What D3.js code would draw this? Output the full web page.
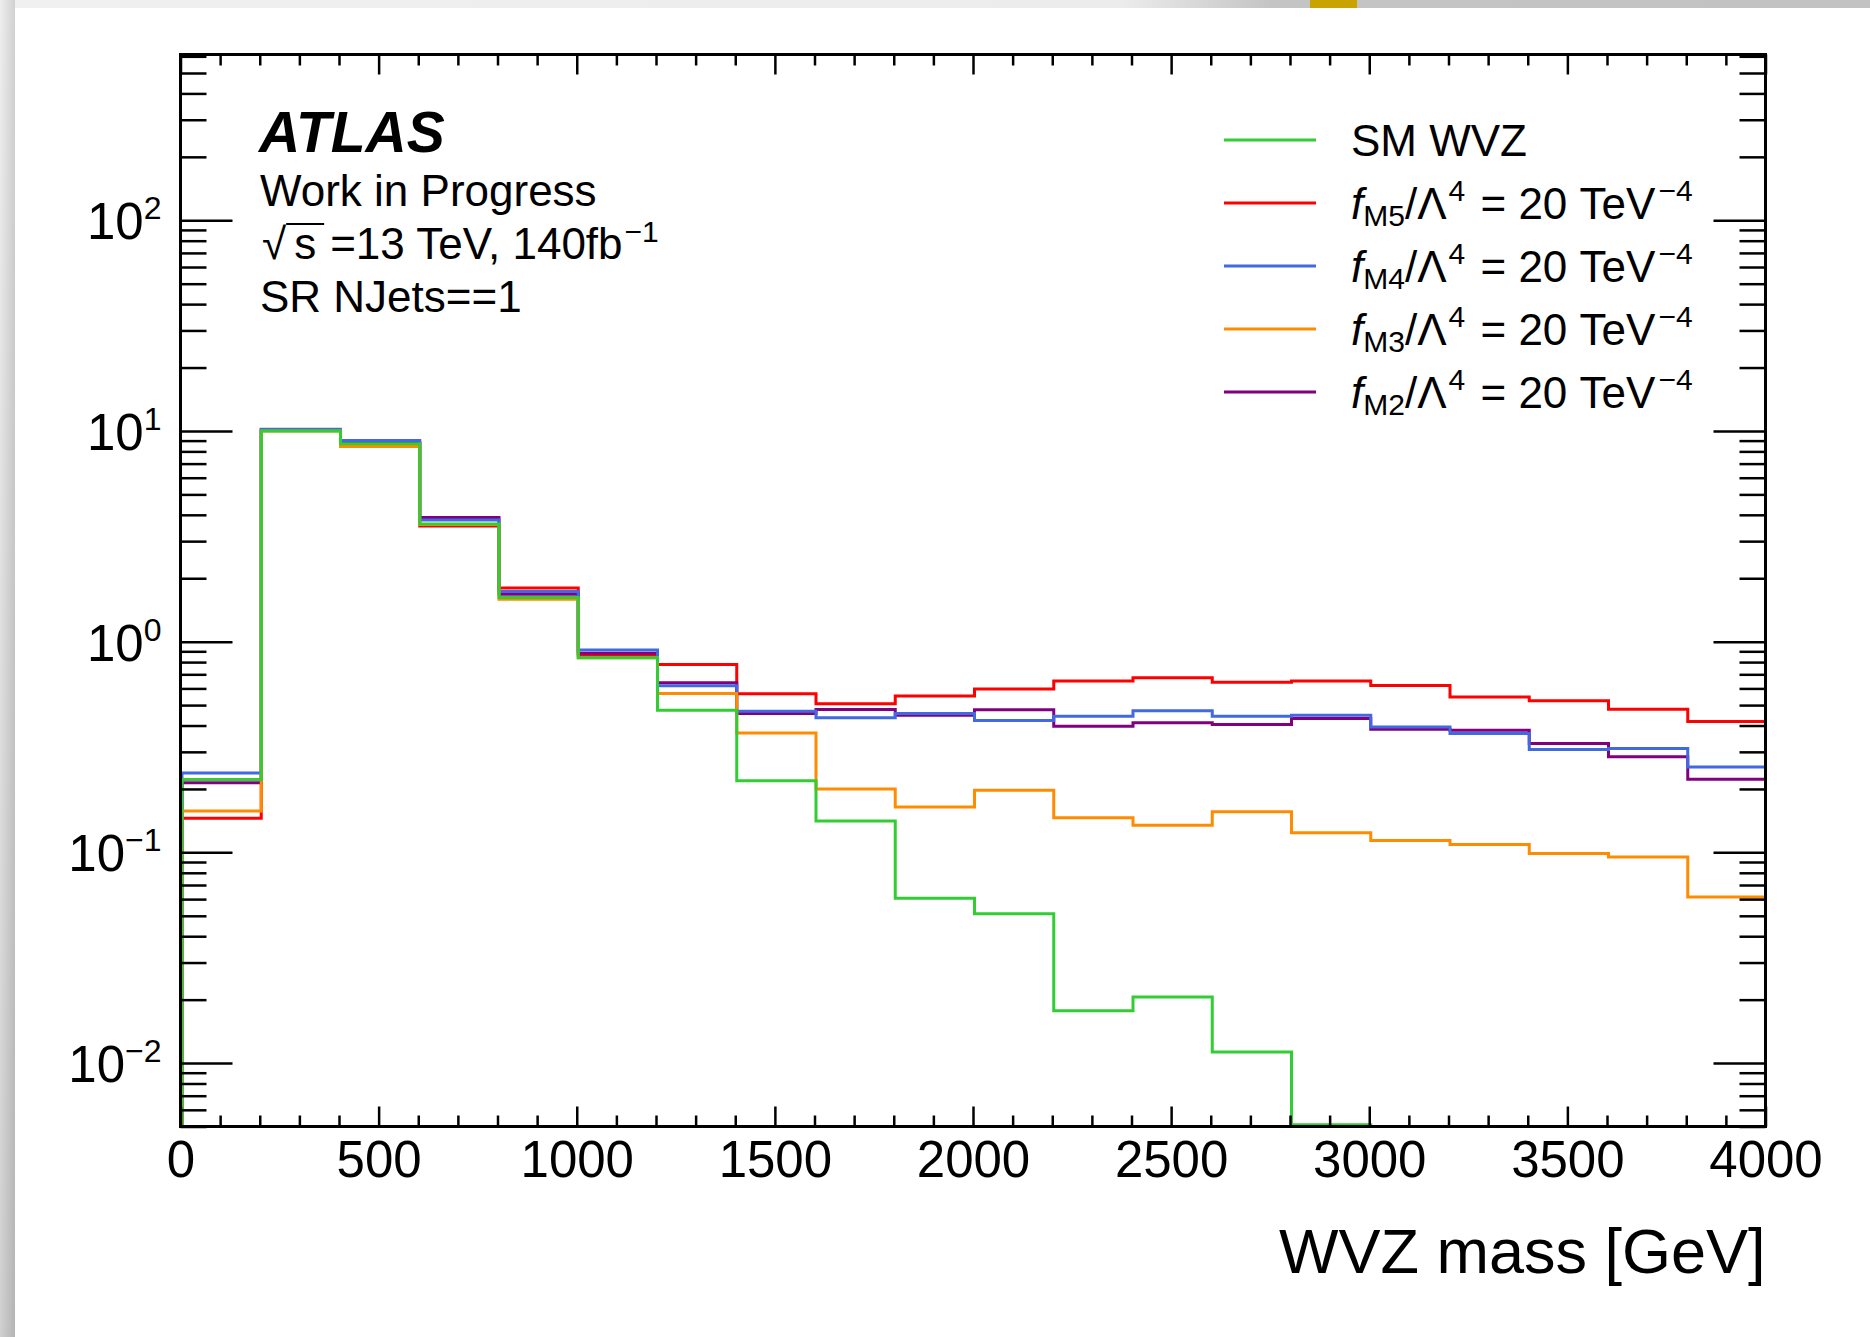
<!DOCTYPE html>
<html>
<head>
<meta charset="utf-8">
<script src="https://cdn.jsdelivr.net/npm/d3@7"></script>
<style>
body { margin: 0; background: #fff; }
text { font-family: "Liberation Sans", Arial, Helvetica, sans-serif; fill: #000; }
</style>
</head>
<body>
<div id="chart"></div>
<script>
// bin edges of the WVZ mass histogram [GeV]
var binEdges = [0, 200, 400, 600, 800, 1000, 1200, 1400, 1600, 1800, 2000,
    2200, 2400, 2600, 2800, 3000, 3200, 3400, 3600, 3800, 4000];

// bin contents (0 = empty bin)
var smWVZ = [0.222, 10.0, 8.7, 3.62, 1.62, 0.839, 0.473, 0.219, 0.141, 0.0605,
    0.0512, 0.0177, 0.0206, 0.0113, 0.0051, 0, 0, 0, 0, 0];
var fM5 = [0.145, 10.1, 8.8, 3.54, 1.80, 0.863, 0.780, 0.566, 0.507, 0.553,
    0.596, 0.650, 0.674, 0.641, 0.650, 0.620, 0.547, 0.524, 0.478, 0.418];
var fM4 = [0.238, 10.2, 9.0, 3.78, 1.73, 0.912, 0.617, 0.467, 0.436, 0.456,
    0.423, 0.443, 0.470, 0.443, 0.448, 0.394, 0.367, 0.308, 0.311, 0.2545];
var fM3 = [0.157, 10.0, 8.43, 3.60, 1.59, 0.840, 0.568, 0.369, 0.200, 0.164,
    0.197, 0.146, 0.1345, 0.156, 0.124, 0.114, 0.109, 0.0987, 0.0951, 0.0614];
var fM2 = [0.214, 10.1, 8.8, 3.88, 1.68, 0.880, 0.638, 0.456, 0.477, 0.447,
    0.475, 0.397, 0.412, 0.405, 0.432, 0.384, 0.380, 0.329, 0.284, 0.2225];

var xMajorTicks = [0, 500, 1000, 1500, 2000, 2500, 3000, 3500, 4000];
var yMajorTicks = [0.01, 0.1, 1, 10, 100];
var yTickExp = ["\u22122", "\u22121", "0", "1", "2"];

var legendSub = [null, "M5", "M4", "M3", "M2"];
var seriesColors = ["#32cd32", "#ff0000", "#4169e1", "#ff8c00", "#800080"];
var seriesData = [smWVZ, fM5, fM4, fM3, fM2];
var drawOrder = [1, 4, 2, 3, 0];

var plot = { left: 180.5, right: 1765.5, top: 54.5, bottom: 1126.5 };
var font = "'Liberation Sans', Arial, Helvetica, sans-serif";

var svg = d3.select("#chart")
    .append("svg")
    .attr("width", 1870)
    .attr("height", 1337);

// window edge shading
var defs = svg.append("defs");
var gTop = defs.append("linearGradient").attr("id", "gTop");
gTop.append("stop").attr("offset", "0").attr("stop-color", "#f0f0f0");
gTop.append("stop").attr("offset", "0.6").attr("stop-color", "#ececec");
gTop.append("stop").attr("offset", "0.68").attr("stop-color", "#c4c4c4");
gTop.append("stop").attr("offset", "1").attr("stop-color", "#c2c2c2");
var gLeft = defs.append("linearGradient").attr("id", "gLeft")
    .attr("x1", 0).attr("y1", 0).attr("x2", 1).attr("y2", 1);
gLeft.append("stop").attr("offset", "0").attr("stop-color", "#eeeeee");
gLeft.append("stop").attr("offset", "1").attr("stop-color", "#b4b4b4");

svg.append("rect").attr("x", 0).attr("y", 0).attr("width", 1870).attr("height", 8).attr("fill", "url(#gTop)");
svg.append("rect").attr("x", 0).attr("y", 0).attr("width", 15).attr("height", 1337).attr("fill", "url(#gLeft)");
svg.append("rect").attr("x", 1310).attr("y", 0).attr("width", 47).attr("height", 8).attr("fill", "#c9a400");

defs.append("clipPath").attr("id", "plotClip")
    .append("rect")
    .attr("x", plot.left).attr("y", plot.top)
    .attr("width", plot.right - plot.left).attr("height", plot.bottom - plot.top);

var x = d3.scaleLinear().domain([0, 4000]).range([plot.left, plot.right]);
var y = d3.scaleLog().domain([0.005, 612]).range([plot.bottom, plot.top]);

// histogram step lines
function stepPoints(vals) {
    var ymin = y.domain()[0];
    var pts = [[binEdges[0], ymin]];
    vals.forEach(function (v, i) {
        var vv = v > ymin ? v : ymin;
        pts.push([binEdges[i], vv]);
        pts.push([binEdges[i + 1], vv]);
    });
    pts.push([binEdges[binEdges.length - 1], ymin]);
    return pts;
}

var line = d3.line()
    .x(function (d) { return x(d[0]); })
    .y(function (d) { return y(d[1]); });

var lines = svg.append("g").attr("clip-path", "url(#plotClip)");
drawOrder.forEach(function (k) {
    lines.append("path")
        .datum(stepPoints(seriesData[k]))
        .attr("fill", "none")
        .attr("stroke", seriesColors[k])
        .attr("stroke-width", 3)
        .attr("transform", "translate(1.5,0)")
        .attr("d", line);
});

// axes: ticks drawn inward on all four sides
var allY = y.ticks();
var yMinor = allY.filter(function (v) {
    var l = Math.log10(v);
    return Math.abs(l - Math.round(l)) > 1e-6;
});
var xMinor = d3.range(0, 4001, 100).filter(function (v) { return v % 500 !== 0; });

function styleAxis(g) {
    g.select(".domain").remove();
    g.selectAll(".tick line").attr("stroke", "#000").attr("stroke-width", 2.5);
    g.attr("font-family", font).attr("font-size", 51);
}

svg.append("g")
    .attr("transform", "translate(0," + plot.bottom + ")")
    .call(d3.axisBottom(x).tickValues(xMajorTicks).tickSize(-20).tickPadding(14).tickFormat(d3.format("d")))
    .call(styleAxis);
svg.append("g")
    .attr("transform", "translate(0," + plot.bottom + ")")
    .call(d3.axisBottom(x).tickValues(xMinor).tickSize(-11).tickFormat(""))
    .call(styleAxis);
svg.append("g")
    .attr("transform", "translate(0," + plot.top + ")")
    .call(d3.axisTop(x).tickValues(xMajorTicks).tickSize(-20).tickFormat(""))
    .call(styleAxis);
svg.append("g")
    .attr("transform", "translate(0," + plot.top + ")")
    .call(d3.axisTop(x).tickValues(xMinor).tickSize(-11).tickFormat(""))
    .call(styleAxis);

var yLeft = svg.append("g")
    .attr("transform", "translate(" + plot.left + ",0)")
    .call(d3.axisLeft(y).tickValues(yMajorTicks).tickSize(-52).tickPadding(19).tickFormat(function () { return "10"; }))
    .call(styleAxis);
yLeft.selectAll(".tick text")
    .attr("dy", "0.36em")
    .each(function (d, i) {
        d3.select(this).append("tspan")
            .attr("dy", -20)
            .attr("font-size", 32)
            .text(yTickExp[i]);
    });
svg.append("g")
    .attr("transform", "translate(" + plot.left + ",0)")
    .call(d3.axisLeft(y).tickValues(yMinor).tickSize(-26).tickFormat(""))
    .call(styleAxis);
svg.append("g")
    .attr("transform", "translate(" + plot.right + ",0)")
    .call(d3.axisRight(y).tickValues(yMajorTicks).tickSize(-52).tickFormat(""))
    .call(styleAxis);
svg.append("g")
    .attr("transform", "translate(" + plot.right + ",0)")
    .call(d3.axisRight(y).tickValues(yMinor).tickSize(-26).tickFormat(""))
    .call(styleAxis);

// frame
svg.append("rect")
    .attr("x", plot.left).attr("y", plot.top)
    .attr("width", plot.right - plot.left).attr("height", plot.bottom - plot.top)
    .attr("fill", "none")
    .attr("stroke", "#000")
    .attr("stroke-width", 3);

// axis title
svg.append("text")
    .attr("x", plot.right)
    .attr("y", 1273)
    .attr("text-anchor", "end")
    .style("font-size", "63px")
    .text("WVZ mass [GeV]");

// ATLAS label block
svg.append("text")
    .attr("x", 259).attr("y", 152)
    .style("font-size", "57px").style("font-weight", "bold").style("font-style", "italic")
    .text("ATLAS");
svg.append("text")
    .attr("x", 260).attr("y", 206)
    .style("font-size", "44px")
    .text("Work in Progress");
var sqrtText = svg.append("text")
    .attr("x", 262).attr("y", 259)
    .style("font-size", "44px");
sqrtText.append("tspan").text("\u221A");
sqrtText.append("tspan").attr("dx", 8).text("s");
sqrtText.append("tspan").attr("dx", 14).text("=13 TeV, 140fb");
sqrtText.append("tspan").attr("dy", -17).attr("dx", 2).style("font-size", "30px").text("\u22121");
var sNode = sqrtText.node();
var sStart = sNode.getStartPositionOfChar(1).x;
var sEnd = sNode.getEndPositionOfChar(1).x;
svg.append("line")
    .attr("x1", sStart - 8).attr("x2", sEnd + 8)
    .attr("y1", 259 - 35).attr("y2", 259 - 35)
    .attr("stroke", "#000").attr("stroke-width", 2);
svg.append("text")
    .attr("x", 260).attr("y", 312)
    .style("font-size", "44px")
    .text("SR NJets==1");

// legend
var legend = svg.selectAll(".legend")
    .data(seriesColors)
    .enter()
    .append("g")
    .attr("class", "legend")
    .attr("transform", function (_, i) { return "translate(0," + (140 + i * 63) + ")"; });

legend.append("line")
    .attr("x1", 1224).attr("x2", 1316)
    .attr("stroke", function (d) { return d; })
    .attr("stroke-width", 3);

legend.append("text")
    .attr("x", 1351)
    .attr("y", 16)
    .style("font-size", "44px")
    .each(function (d, i) {
        var t = d3.select(this);
        if (legendSub[i] === null) {
            t.text("SM WVZ");
            return;
        }
        t.append("tspan").style("font-style", "italic").text("f");
        t.append("tspan").attr("dy", 7).style("font-size", "30px").text(legendSub[i]);
        t.append("tspan").attr("dy", -7).text("/\u039B");
        t.append("tspan").attr("dy", -18).attr("dx", 2).style("font-size", "30px").text("4");
        t.append("tspan").attr("dy", 18).attr("dx", 3).text(" = 20 TeV");
        t.append("tspan").attr("dy", -18).attr("dx", 3).style("font-size", "30px").text("\u22124");
    });
</script>
</body>
</html>
